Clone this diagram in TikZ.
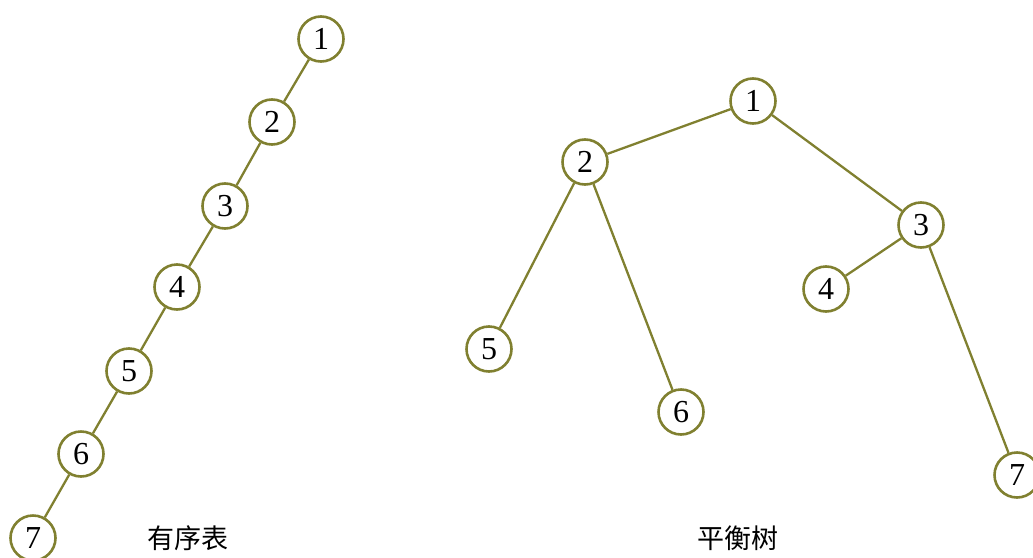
\documentclass[tikz,border=0pt]{standalone}
\usepackage{fontspec}
\setmainfont{Liberation Serif}
\newfontfamily\cjk{Noto Sans CJK SC}
\definecolor{olive}{RGB}{128,128,48}
\begin{document}
\begin{tikzpicture}[x=1pt,y=-1pt,
  tn/.style={circle,draw=olive,line width=2.6pt,fill=white,minimum size=45pt,inner sep=0pt,font=\fontsize{32}{32}\selectfont},
  edge/.style={draw=olive,line width=2.3pt},
  lab/.style={font=\cjk\fontsize{27}{27}\selectfont,inner sep=0pt}]
\useasboundingbox (0,0) rectangle (1033,557);
\begin{scope}
\clip (0,0) rectangle (1033,557);
% left chain
\node[tn] (a1) at (321,39) {1};
\node[tn] (a2) at (272,122) {2};
\node[tn] (a3) at (225,206) {3};
\node[tn] (a4) at (177,287) {4};
\node[tn] (a5) at (129,371) {5};
\node[tn] (a6) at (81,454) {6};
\node[tn] (a7) at (33,538) {7};
\draw[edge] (a1) -- (a2);
\draw[edge] (a2) -- (a3);
\draw[edge] (a3) -- (a4);
\draw[edge] (a4) -- (a5);
\draw[edge] (a5) -- (a6);
\draw[edge] (a6) -- (a7);
% right tree
\node[tn] (b1) at (753,101) {1};
\node[tn] (b2) at (585,162) {2};
\node[tn] (b3) at (921,225) {3};
\node[tn] (b4) at (826,289) {4};
\node[tn] (b5) at (489,349) {5};
\node[tn] (b6) at (681,412) {6};
\node[tn] (b7) at (1017,475) {7};
\draw[edge] (b1) -- (b2);
\draw[edge] (b1) -- (b3);
\draw[edge] (b2) -- (b5);
\draw[edge] (b2) -- (b6);
\draw[edge] (b3) -- (b4);
\draw[edge] (b3) -- (b7);
\end{scope}
\node[lab] (t1) at (188,538) {有序表};
\node[lab] (t2) at (738,538) {平衡树};
\end{tikzpicture}
\end{document}
